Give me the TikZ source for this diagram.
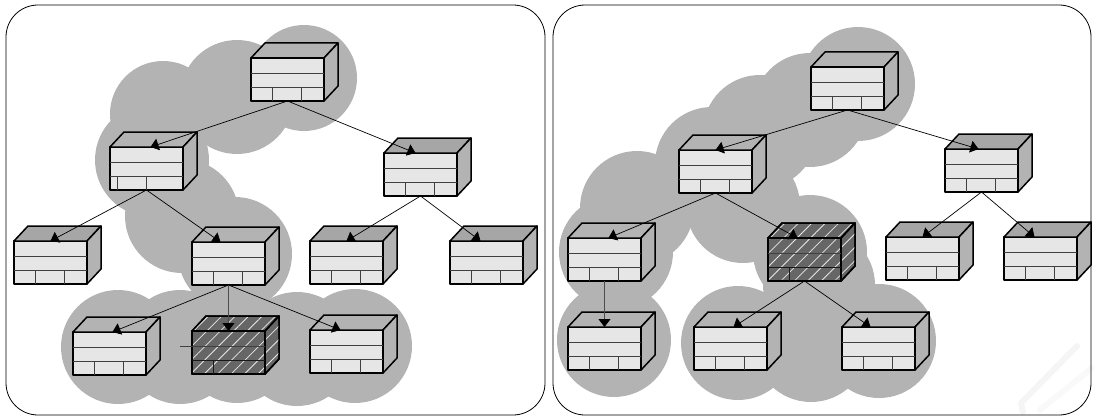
\documentclass[tikz,border=0pt]{standalone}
\usetikzlibrary{arrows.meta,patterns.meta,calc}
\definecolor{blob}{HTML}{B3B3B3}
\definecolor{frontc}{HTML}{E6E6E6}
\definecolor{topc}{HTML}{A6A6A6}
\definecolor{darkc}{HTML}{666666}
\tikzset{
  frame/.style={draw=black,line width=0.8pt,rounded corners=32pt},
  cubeface/.style={draw=black,line width=1.5pt,line join=round},
  front/.style={cubeface,fill=frontc,minimum width=73pt,minimum height=43pt,inner sep=0pt,outer sep=0pt},
  rule/.style={draw=black!75,line width=0.8pt},
  edge/.style={draw=black,line width=0.7pt,-{Triangle[length=8pt,width=12pt,color=black,fill=black]}},
  grayedge/.style={edge,draw=black!70,line width=1pt},
  hatch/.style={pattern={Lines[angle=45,distance=9.5pt,line width=0.8pt]},pattern color=white!85!darkc}
}
\newcommand{\blobs}[1]{\foreach \cx/\cy/\cr in {#1}{\fill[blob] (\cx,\cy) circle[radius=\cr pt];}}
% [first vertical offset], name, left, top, colour of the top face
\newcommand{\plaincube}[5][21]{%
  \node[front,anchor=north west] (#2) at (#3,#4) {};
  \filldraw[cubeface,fill=#5] (#2.north west) -- ++(14,-15) -- ++(73,0) -- ++(-14,15) -- cycle;
  \filldraw[cubeface,fill=blob] (#2.north east) -- ++(14,-15) -- ++(0,43) -- ++(-14,15) -- cycle;
  \draw[rule] ($(#2.north west)+(0,15)$) -- ++(73,0);
  \draw[rule] ($(#2.north west)+(0,29)$) -- ++(73,0);
  \draw[rule] ($(#2.north west)+(#1,29)$) -- ++(0,14);
  \draw[rule] ($(#2.north west)+(#1+29,29)$) -- ++(0,14);
}
\newcommand{\darkcube}[3]{%
  \node[front,fill=darkc,anchor=north west] (#1) at (#2,#3) {};
  \fill[hatch] (#1.north west) rectangle (#1.south east);
  \filldraw[cubeface,fill=darkc] (#1.north west) -- ++(14,-15) -- ++(73,0) -- ++(-14,15) -- cycle;
  \fill[hatch] (#1.north west) -- ++(14,-15) -- ++(73,0) -- ++(-14,15) -- cycle;
  \filldraw[cubeface,fill=darkc] (#1.north east) -- ++(14,-15) -- ++(0,43) -- ++(-14,15) -- cycle;
  \fill[hatch] (#1.north east) -- ++(14,-15) -- ++(0,43) -- ++(-14,15) -- cycle;
  \draw[cubeface] (#1.north west) rectangle (#1.south east);
  \draw[cubeface] (#1.north west) -- ++(14,-15) -- ++(73,0) -- ++(0,43) -- (#1.south east);
  \draw[cubeface] (#1.north east) -- ++(14,-15);
  \draw[rule] ($(#1.north west)+(0,15)$) -- ++(73,0);
  \draw[rule,draw=black!90] ($(#1.north west)+(0,29)$) -- ++(73,0);
  \draw[rule,draw=black!90] ($(#1.north west)+(21,29)$) -- ++(0,14);
}
\begin{document}
\begin{tikzpicture}[x=1pt,y=-1pt]
\useasboundingbox (0,0) rectangle (1094,417);
% watermark
\draw[black!4,line width=6pt,line cap=round,line join=round]
  (1023,412) -- (1021,403) -- (1077,346);
\draw[black!2.5,line width=6pt,line cap=round]
  (1040,410) -- (1092,368);
% blobs left
\blobs{304/78/53,237/97/57,163/114/53,152/160/57,182/216/57,235/254/57,
  118/347/57,180/347/57,237/347/56,297/349/57,355/346/57}
% blobs right
\blobs{858/84/57,810/110/57,760/132/57,712/164/57,637/208/57,616/252/57,614/340/57,
  743/206/57,810/252/57,819/285/56,738/343/57,811/345/57,879/341/57}
% frames
\draw[frame] (6,5) rectangle (545,415);
\draw[frame] (553,5) rectangle (1091,415);
% left tree
\plaincube{la}{251}{58}{blob}
\plaincube[7]{lb}{110}{147}{blob}
\plaincube{lc}{384}{153}{topc}
\plaincube{ld}{14}{241}{topc}
\plaincube{le}{192}{242}{blob}
\plaincube{lf}{310}{241}{topc}
\plaincube{lg}{450}{241}{topc}
\plaincube{lh}{73}{332}{blob}
\darkcube{li}{192}{331}
\plaincube{lj}{310}{330}{blob}
\coordinate (stub) at (180,346);
\draw[rule] (stub) -- ($(li.north west)+(0,15)$);
\draw[edge] (la.south) -- ($(lb.north)+(4,0)$);
\draw[edge] (la.south) -- ($(lc.north)+(-5,0)$);
\draw[edge] (lb.south) -- (ld.north);
\draw[edge] (lb.south) -- ($(le.north)+(-8,0)$);
\draw[edge] (lc.south) -- (lf.north);
\draw[edge] (lc.south) -- ($(lg.north)+(-6,0)$);
\draw[edge] (le.south) -- ($(lh.north)+(3,0)$);
\draw[grayedge] (le.south) -- (li.north);
\draw[edge] (le.south) -- ($(lj.north)+(-6,0)$);
% right tree
\plaincube{ra}{811}{67}{blob}
\plaincube{rb}{679}{150}{blob}
\plaincube{rc}{945}{149}{topc}
\plaincube{rd}{568}{238}{blob}
\darkcube{re}{768}{238}
\plaincube{rf}{886}{237}{topc}
\plaincube{rg}{1004}{237}{topc}
\plaincube{rh}{568}{327}{blob}
\plaincube{ri}{694}{327}{blob}
\plaincube{rj}{842}{327}{blob}
\draw[edge] (ra.south) -- (rb.north);
\draw[edge] (ra.south) -- ($(rc.north)+(-3,0)$);
\draw[edge] (rb.south) -- ($(rd.north)+(4,0)$);
\draw[edge] (rb.south) -- ($(re.north)+(-7,0)$);
\draw[edge] (rc.south) -- (rf.north);
\draw[edge] (rc.south) -- ($(rg.north)+(-6,0)$);
\draw[grayedge] (rd.south) -- (rh.north);
\draw[edge] (re.south) -- ($(ri.north)+(3,0)$);
\draw[edge] (re.south) -- ($(rj.north)+(-8,0)$);
\end{tikzpicture}
\end{document}
